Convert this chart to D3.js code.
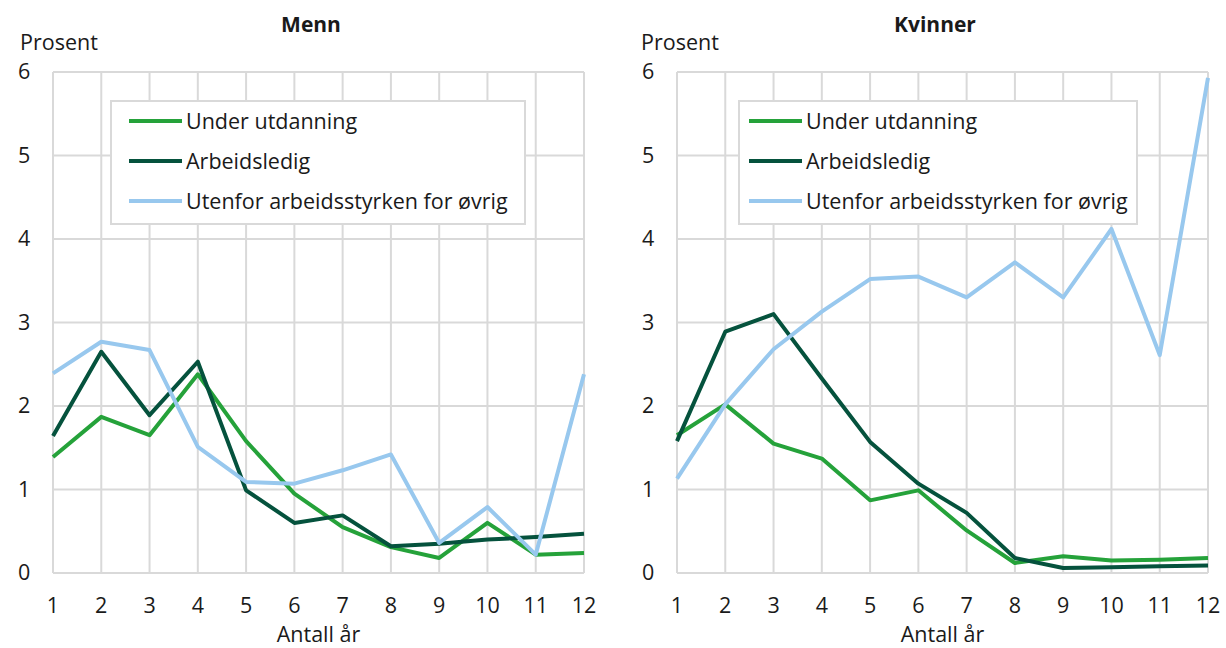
<!DOCTYPE html>
<html lang="no">
<head>
<meta charset="UTF-8">
<title>Menn og kvinner</title>
<script src="https://d3js.org/d3.v7.min.js"></script>
<style>
    body { margin: 0; background: #fff; }
    text { font-family: "Open Sans", sans-serif; fill: #1a1a1a; }
    .grid line { stroke: #d9d9d9; stroke-width: 2; }
    .title { font-weight: bold; font-size: 21px; }
</style>
</head>
<body>
<svg width="1226" height="648"></svg>
<script>
    // Data
    const years = [1, 2, 3, 4, 5, 6, 7, 8, 9, 10, 11, 12];
    const yTicks = [0, 1, 2, 3, 4, 5, 6];
    const seriesNames = ["Under utdanning", "Arbeidsledig", "Utenfor arbeidsstyrken for øvrig"];

    const mennUtdanning = [1.39, 1.87, 1.65, 2.38, 1.58, 0.95, 0.55, 0.31, 0.18, 0.60, 0.22, 0.24];
    const mennLedig = [1.64, 2.65, 1.89, 2.53, 0.99, 0.60, 0.69, 0.32, 0.35, 0.40, 0.43, 0.47];
    const mennUtenfor = [2.39, 2.77, 2.67, 1.51, 1.09, 1.07, 1.23, 1.42, 0.36, 0.79, 0.22, 2.38];

    const kvinnerUtdanning = [1.65, 2.02, 1.55, 1.37, 0.87, 0.99, 0.51, 0.12, 0.20, 0.15, 0.16, 0.18];
    const kvinnerLedig = [1.58, 2.89, 3.10, 2.33, 1.57, 1.07, 0.72, 0.18, 0.06, 0.07, 0.08, 0.09];
    const kvinnerUtenfor = [1.13, 2.02, 2.68, 3.13, 3.52, 3.55, 3.30, 3.72, 3.30, 4.12, 2.61, 5.93];

    const colors = ["#25a23a", "#05523d", "#98c8ee"];
    const fs = 21.5;

    const svg = d3.select("svg");

    const drawPanel = (opts) => {
        const { title, left, series, legend } = opts;
        const width = 531, top = 72, height = 501;

        const x = d3.scaleLinear().domain([1, 12]).range([left, left + width]);
        const y = d3.scaleLinear().domain([0, 6]).range([top + height, top]);

        const g = svg.append("g");

        // grid
        const grid = g.append("g").attr("class", "grid");
        grid.selectAll(".h").data(yTicks).enter().append("line")
            .attr("x1", x(1)).attr("x2", x(12))
            .attr("y1", d => y(d)).attr("y2", d => y(d));
        grid.selectAll(".v").data(years).enter().append("line")
            .attr("x1", d => x(d)).attr("x2", d => x(d))
            .attr("y1", y(0)).attr("y2", y(6));

        // y tick labels
        g.selectAll(".ylab").data(yTicks).enter().append("text")
            .attr("x", left - 35).attr("y", d => y(d) + 7)
            .attr("font-size", fs)
            .text(d => d);

        // x tick labels
        g.selectAll(".xlab").data(years).enter().append("text")
            .attr("x", d => x(d)).attr("y", 613)
            .attr("text-anchor", "middle")
            .attr("font-size", fs)
            .text(d => d);

        g.append("text").attr("x", x(6.5)).attr("y", 642)
            .attr("text-anchor", "middle").attr("font-size", fs)
            .text("Antall år");

        g.append("text").attr("x", opts.prosentX).attr("y", 50)
            .attr("font-size", fs).text("Prosent");

        g.append("text").attr("class", "title")
            .attr("x", opts.titleX).attr("y", 32)
            .attr("text-anchor", "middle").text(title);

        // legend
        const lg = g.append("g");
        lg.append("rect")
            .attr("x", legend.x).attr("y", 101)
            .attr("width", legend.w).attr("height", 123)
            .attr("fill", "#fff").attr("stroke", "#d9d9d9").attr("stroke-width", 2);
        seriesNames.forEach((name, i) => {
            const ly = 121 + i * 40;
            lg.append("line")
                .attr("x1", legend.x + legend.pad).attr("x2", legend.x + legend.pad + 53)
                .attr("y1", ly).attr("y2", ly)
                .attr("stroke", colors[i]).attr("stroke-width", 4);
            lg.append("text")
                .attr("x", legend.x + legend.pad + 57).attr("y", ly + 8)
                .attr("font-size", fs).text(name);
        });

        // lines
        const line = d3.line().x((d, i) => x(years[i])).y(d => y(d));
        series.forEach((s, i) => {
            g.append("path").datum(s)
                .attr("fill", "none")
                .attr("stroke", colors[i])
                .attr("stroke-width", 4)
                .attr("stroke-linejoin", "round")
                .attr("d", line);
        });
    };

    drawPanel({
        title: "Menn", titleX: 311, left: 53, prosentX: 20,
        series: [mennUtdanning, mennLedig, mennUtenfor],
        legend: { x: 111, w: 414, pad: 18 }
    });

    drawPanel({
        title: "Kvinner", titleX: 935, left: 677, prosentX: 641,
        series: [kvinnerUtdanning, kvinnerLedig, kvinnerUtenfor],
        legend: { x: 739, w: 398, pad: 10 }
    });
</script>
</body>
</html>
